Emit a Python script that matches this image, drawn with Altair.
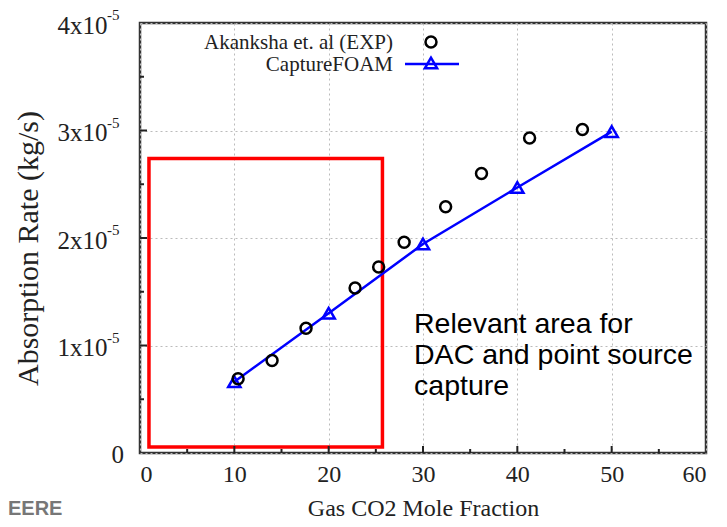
import altair as alt
import pandas as pd

# ---- data (absorption rate in units of 1e-5 kg/s) ----
exp_x = [10.4, 14.0, 17.6, 22.8, 25.3, 28.0, 32.4, 36.2, 41.3, 46.9]
exp_y = [0.69, 0.86, 1.16, 1.535, 1.73, 1.96, 2.29, 2.60, 2.93, 3.01]
sim_x = [10, 20, 30, 40, 50]
sim_y = [0.663, 1.30, 1.944, 2.47, 2.99]

x_ticks = [0, 10, 20, 30, 40, 50, 60]
x_minor = [5, 15, 25, 35, 45, 55]
y_ticks = [0, 1, 2, 3, 4]
y_minor = [0.5, 1.5, 2.5, 3.5]
y_exponent = "-5"

box_x = [0.95, 25.7]
box_y = [0.056, 2.74]

note_lines = ["Relevant area for", "DAC and point source", "capture"]
note_pos = [29.05, 1.115]

legend_labels = ["Akanksha et. al (EXP)", "CaptureFOAM"]

S = 1e-5
W, H = 566, 430
SERIF = "Liberation Serif"
TXT = "#222222"

exp_df = pd.DataFrame({"x": exp_x, "y": [v * S for v in exp_y]})
sim_df = pd.DataFrame({"x": sim_x, "y": [v * S for v in sim_y]})

xs = alt.Scale(domain=[0, 60], nice=False, zero=False)
ys = alt.Scale(domain=[0, 4 * S], nice=False, zero=False)

x_axis = alt.Axis(values=x_ticks, grid=True, gridDash=[2, 3], gridColor="#bbbbbb",
                  gridWidth=1, domain=False, ticks=False, labelFont=SERIF,
                  labelFontSize=24, labelColor=TXT, labelPadding=9,
                  title="Gas CO2 Mole Fraction", titleFont=SERIF, titleFontSize=24,
                  titleFontWeight="normal", titleColor=TXT, titlePadding=10)
y_axis = alt.Axis(values=[v * S for v in y_ticks], grid=True, gridDash=[2, 3],
                  gridColor="#bbbbbb", gridWidth=1, domain=False, ticks=False,
                  labelFont=SERIF, labelFontSize=25, labelColor=TXT,
                  labelPadding=33, labelBaseline="middle", labelOffset=2,
                  labelExpr="datum.value == 0 ? '' : format(round(datum.value*1e5), 'd') + 'x10'",
                  title="Absorption Rate (kg/s)", titleFont=SERIF, titleFontSize=30,
                  titleFontWeight="normal", titleColor=TXT, titlePadding=14,
                  titleY=225)

base_x = alt.X("x:Q", scale=xs, axis=x_axis)
base_y = alt.Y("y:Q", scale=ys, axis=y_axis)

# red box
box = alt.Chart(pd.DataFrame({"x": [box_x[0]], "x2": [box_x[1]],
                              "y": [box_y[0] * S], "y2": [box_y[1] * S]})).mark_rect(
    filled=False, stroke="#ff0000", strokeWidth=3.5
).encode(x=base_x, x2="x2:Q", y=base_y, y2="y2:Q")

# superscript exponents for the y labels
sup = alt.Chart(pd.DataFrame({"y": [v * S for v in y_ticks[1:]],
                              "t": [y_exponent] * (len(y_ticks) - 1)})).mark_text(
    align="left", baseline="alphabetic", font=SERIF, fontSize=15, color=TXT, dy=-3
).encode(x=alt.value(-33), y=alt.Y("y:Q", scale=ys), text="t:N")

# "0" label of the y axis (no exponent, sits closer to the axis)
zero_lab = alt.Chart(pd.DataFrame({"y": [y_ticks[0] * S], "t": ["0"]})).mark_text(
    align="right", baseline="middle", font=SERIF, fontSize=25, color=TXT, dy=2
).encode(x=alt.value(-16), y=alt.Y("y:Q", scale=ys), text="t:N")

# inward ticks
xt_major = alt.Chart(pd.DataFrame({"x": x_ticks[1:-1]})).mark_rule(
    color=TXT, strokeWidth=2).encode(
    x=alt.X("x:Q", scale=xs), y=alt.value(H), y2=alt.value(H - 7))
xt_minor = alt.Chart(pd.DataFrame({"x": x_minor})).mark_rule(
    color=TXT, strokeWidth=2).encode(
    x=alt.X("x:Q", scale=xs), y=alt.value(H), y2=alt.value(H - 4))
yt_major = alt.Chart(pd.DataFrame({"y": [v * S for v in y_ticks[1:-1]]})).mark_rule(
    color=TXT, strokeWidth=2).encode(
    y=alt.Y("y:Q", scale=ys), x=alt.value(0), x2=alt.value(7))
yt_minor = alt.Chart(pd.DataFrame({"y": [v * S for v in y_minor]})).mark_rule(
    color=TXT, strokeWidth=2).encode(
    y=alt.Y("y:Q", scale=ys), x=alt.value(0), x2=alt.value(4))

line = alt.Chart(sim_df).mark_line(color="#0000ff", strokeWidth=2.5).encode(x=base_x, y=base_y)
tri = alt.Chart(sim_df).mark_point(shape="triangle-up", filled=False, color="#0000ff",
                                   strokeWidth=2.5, size=150, opacity=1).encode(x=base_x, y=base_y)
circ = alt.Chart(exp_df).mark_point(shape="circle", filled=False, color="#000000",
                                    strokeWidth=2.5, size=120, opacity=1).encode(x=base_x, y=base_y)

note = alt.Chart(pd.DataFrame({"x": [note_pos[0]], "y": [note_pos[1] * S],
                               "t": [note_lines]})).mark_text(
    align="left", baseline="alphabetic", font="Liberation Sans", fontSize=28.5,
    lineHeight=31, color="#000"
).encode(x=alt.X("x:Q", scale=xs), y=alt.Y("y:Q", scale=ys), text="t:N")

# legend (drawn manually: labels left, symbols right)
leg1_t = alt.Chart(pd.DataFrame({"t": [legend_labels[0]]})).mark_text(
    align="right", baseline="middle", font=SERIF, fontSize=21, color=TXT
).encode(x=alt.value(253), y=alt.value(19.5), text="t:N")
leg2_t = alt.Chart(pd.DataFrame({"t": [legend_labels[1]]})).mark_text(
    align="right", baseline="middle", font=SERIF, fontSize=21, color=TXT
).encode(x=alt.value(253), y=alt.value(41.5), text="t:N")
leg1_s = alt.Chart(pd.DataFrame({"t": [legend_labels[0]]})).mark_point(
    shape="circle", filled=False, color="#000", strokeWidth=2.5, size=120, opacity=1
).encode(x=alt.value(291), y=alt.value(19))
leg2_l = alt.Chart(pd.DataFrame({"t": [legend_labels[1]]})).mark_rule(
    color="#0000ff", strokeWidth=2.5
).encode(x=alt.value(265), x2=alt.value(319), y=alt.value(41))
leg2_s = alt.Chart(pd.DataFrame({"t": [legend_labels[1]]})).mark_point(
    shape="triangle-up", filled=False, color="#0000ff", strokeWidth=2.5, size=150, opacity=1
).encode(x=alt.value(291), y=alt.value(40))

eere = alt.Chart(pd.DataFrame({"t": ["EERE"]})).mark_text(
    align="left", baseline="alphabetic", font="Liberation Sans", fontSize=20,
    fontWeight="bold", color="#777"
).encode(x=alt.value(-132), y=alt.value(492), text="t:N")

chart = alt.layer(box, line, tri, circ, xt_major, xt_minor, yt_major, yt_minor, sup,
                  zero_lab, note, leg1_t, leg2_t, leg1_s, leg2_l, leg2_s, eere).properties(
    width=W, height=H,
    autosize=alt.AutoSizeParams(type="none"),
    padding={"left": 132, "top": 15, "right": 5, "bottom": 66},
    background="white",
).configure_view(stroke="#333", strokeWidth=2.5)

chart.save("out.html", embed_options={"renderer": "svg", "actions": False})
